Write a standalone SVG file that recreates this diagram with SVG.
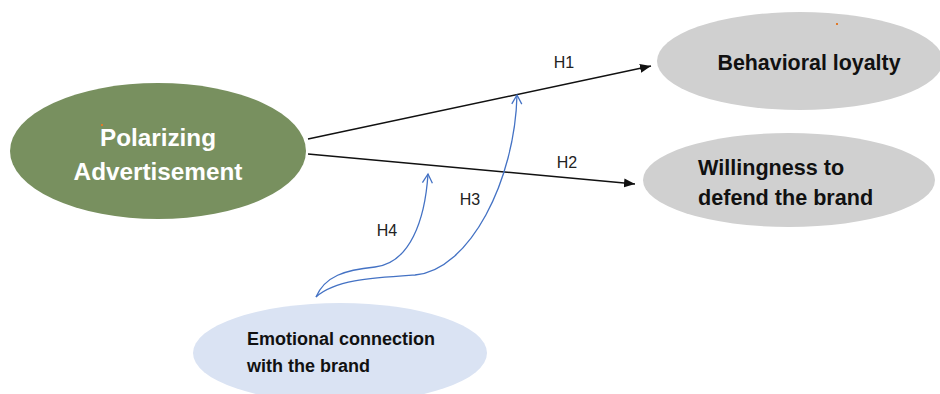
<svg xmlns="http://www.w3.org/2000/svg" width="940" height="394" viewBox="0 0 940 394">
<defs>
<style>
.lbl{font-family:"Liberation Sans",Arial,sans-serif;font-size:16px;fill:#222}
.nt{font-family:"Liberation Sans",Arial,sans-serif;font-weight:bold}
.blk{stroke:#111;stroke-width:1.5;fill:none}
.blu{stroke:#4472c4;stroke-width:1.3;fill:none}
</style>
<marker id="ah" markerWidth="12" markerHeight="10" refX="11" refY="5" orient="auto" markerUnits="userSpaceOnUse">
<path d="M0,0.5 L11,5 L0,9.5 Z" fill="#111"/>
</marker>
<marker id="ab" markerWidth="12" markerHeight="12" refX="10" refY="6" orient="auto" markerUnits="userSpaceOnUse">
<path d="M1,1 L10,6 L1,11" fill="none" stroke="#4472c4" stroke-width="1.3"/>
</marker>
</defs>
<rect width="940" height="394" fill="#fff"/>
<g id="polarizing">
<ellipse cx="158" cy="151" rx="148" ry="68" fill="#78905f"/>
<text class="nt" x="158" y="146" font-size="24.3" fill="#fff" text-anchor="middle">Polarizing</text>
<text class="nt" x="158" y="180" font-size="24.3" fill="#fff" text-anchor="middle">Advertisement</text>
</g>
<g id="loyalty">
<ellipse cx="800" cy="61" rx="143" ry="49" fill="#d0d0d0"/>
<text class="nt" x="809" y="70" font-size="21.4" fill="#111" text-anchor="middle">Behavioral loyalty</text>
</g>
<g id="defend">
<ellipse cx="789" cy="180" rx="146" ry="47" fill="#d0d0d0"/>
<text class="nt" x="698" y="175" font-size="21.6" fill="#111">Willingness to</text>
<text class="nt" x="698" y="205" font-size="21.6" fill="#111">defend the brand</text>
</g>
<g id="emotional">
<ellipse cx="340" cy="353" rx="147" ry="50" fill="#dae3f3"/>
<text class="nt" x="247" y="345" font-size="18" fill="#111">Emotional connection</text>
<text class="nt" x="247" y="372" font-size="18" fill="#111">with the brand</text>
</g>
<g id="connectors">
<line class="blk" x1="308" y1="139" x2="651" y2="66" marker-end="url(#ah)"/>
<line class="blk" x1="308" y1="154" x2="635" y2="184" marker-end="url(#ah)"/>
<path class="blu" d="M316,297 C335,280 370,278 415,275 C470,270 515,180 517,95" marker-end="url(#ab)"/>
<path class="blu" d="M316,297 C325,276 345,270 375,267 C410,263 425,220 428,174" marker-end="url(#ab)"/>
<text class="lbl" x="564" y="68" text-anchor="middle">H1</text>
<text class="lbl" x="567" y="168" text-anchor="middle">H2</text>
<text class="lbl" x="470" y="205" text-anchor="middle">H3</text>
<text class="lbl" x="387" y="236" text-anchor="middle">H4</text>
</g>
<rect x="101" y="124" width="2" height="2" fill="#e07a2a"/>
<rect x="836" y="23" width="2" height="2" fill="#e07a2a"/>
</svg>
